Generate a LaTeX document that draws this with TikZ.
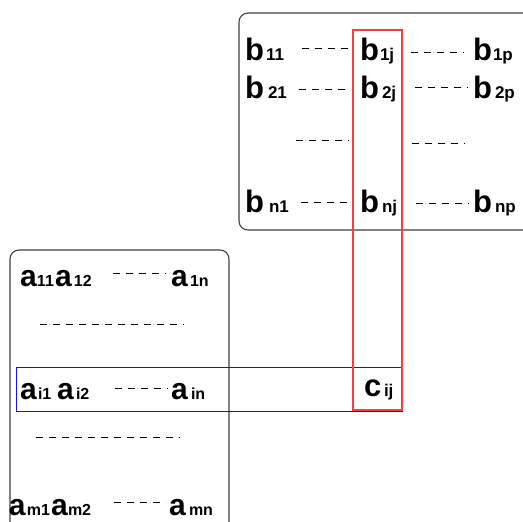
\documentclass[tikz,border=0pt]{standalone}
\usepackage{fontspec}
\setmainfont{Liberation Sans}
\begin{document}
\begin{tikzpicture}[x=1pt,y=-1pt,
  bigb/.style={anchor=base west,inner sep=0pt,outer sep=0pt,font=\fontsize{31}{31}\selectfont\bfseries},
  biga/.style={anchor=base west,inner sep=0pt,outer sep=0pt,font=\fontsize{30}{30}\selectfont\bfseries},
  subb/.style={anchor=base west,inner sep=0pt,outer sep=0pt,font=\fontsize{17}{17}\selectfont\bfseries},
  suba/.style={anchor=base west,inner sep=0pt,outer sep=0pt,font=\fontsize{16}{16}\selectfont\bfseries},
  dl/.style={draw=black,line width=0.9pt,dash pattern=on 7pt off 6pt},
  frame/.style={draw=black!75,line width=1.1pt,rounded corners=9pt},
  redbox/.style={draw={rgb,255:red,255;green,60;blue,60},line width=1.2pt},
  bluebox/.style={draw={rgb,255:red,20;green,20;blue,230},line width=1pt},
  ]
\useasboundingbox (0,0) rectangle (523,522);
\fill[white] (0,0) rectangle (523,522);
% frames
\draw[frame] (239,13) rectangle (570,230);
\draw[frame] (10,250) rectangle (229,570);
% B matrix
\node[bigb] (b11) at (245,60) {b}; \node[subb] (b11s) at (266,60) {11};
\node[bigb] (b1j) at (360,60) {b}; \node[subb] (b1js) at (380,60) {1j};
\node[bigb] (b1p) at (473,60) {b}; \node[subb] (b1ps) at (493,60) {1p};
\node[bigb] (b21) at (245,98) {b}; \node[subb] (b21s) at (268,98) {21};
\node[bigb] (b2j) at (360,98) {b}; \node[subb] (b2js) at (382,98) {2j};
\node[bigb] (b2p) at (473,98) {b}; \node[subb] (b2ps) at (495,98) {2p};
\node[bigb] (bn1) at (245,212) {b}; \node[subb] (bn1s) at (269,212) {n1};
\node[bigb] (bnj) at (360,212) {b}; \node[subb] (bnjs) at (382,212) {nj};
\node[bigb] (bnp) at (473,212) {b}; \node[subb] (bnps) at (495,212) {np};
% B dashes
\coordinate (d1a) at (302,48); \coordinate (d1b) at (351,48);
\coordinate (d2a) at (411,52); \coordinate (d2b) at (464,52);
\coordinate (d3a) at (299,89); \coordinate (d3b) at (351,89);
\coordinate (d4a) at (415,87); \coordinate (d4b) at (468,87);
\coordinate (d5a) at (296,140); \coordinate (d5b) at (349,140);
\coordinate (d6a) at (412,143); \coordinate (d6b) at (465,143);
\coordinate (d7a) at (301,202); \coordinate (d7b) at (353,202);
\coordinate (d8a) at (416,203); \coordinate (d8b) at (469,203);
\foreach \k in {1,...,8} {\draw[dl] (d\k a) -- (d\k b);}
% A matrix
\node[biga] (a11) at (20,286) {a}; \node[suba] (a11s) at (37,286) {11};
\node[biga] (a12) at (55,286) {a}; \node[suba] (a12s) at (74,286) {12};
\node[biga] (a1n) at (171,286) {a}; \node[suba] (a1ns) at (190,286) {1n};
\node[biga] (ai1) at (20,399) {a}; \node[suba] (ai1s) at (38,399) {i1};
\node[biga] (ai2) at (57,399) {a}; \node[suba] (ai2s) at (76,399) {i2};
\node[biga] (ain) at (171,399) {a}; \node[suba] (ains) at (191,399) {in};
\node[biga] (am1) at (9,515) {a}; \node[suba] (am1s) at (27,515) {m1};
\node[biga] (am2) at (51,515) {a}; \node[suba] (am2s) at (68,515) {m2};
\node[biga] (amn) at (169,515) {a}; \node[suba] (amns) at (189,515) {mn};
% A dashes
\coordinate (e1a) at (113,273); \coordinate (e1b) at (166,273);
\coordinate (e2a) at (40,324); \coordinate (e2b) at (184,324);
\coordinate (e3a) at (115,388); \coordinate (e3b) at (168,388);
\coordinate (e4a) at (36,437); \coordinate (e4b) at (180,437);
\coordinate (e5a) at (114,502); \coordinate (e5b) at (166,502);
\foreach \k in {1,...,5} {\draw[dl] (e\k a) -- (e\k b);}
% C element
\node[bigb] (cij) at (364,396) {c}; \node[subb] (cijs) at (384,396) {ij};
% highlight boxes
\draw[bluebox] (16,367) rectangle (402,411);
\draw[redbox] (353,30) rectangle (402,410);
\end{tikzpicture}
\end{document}
